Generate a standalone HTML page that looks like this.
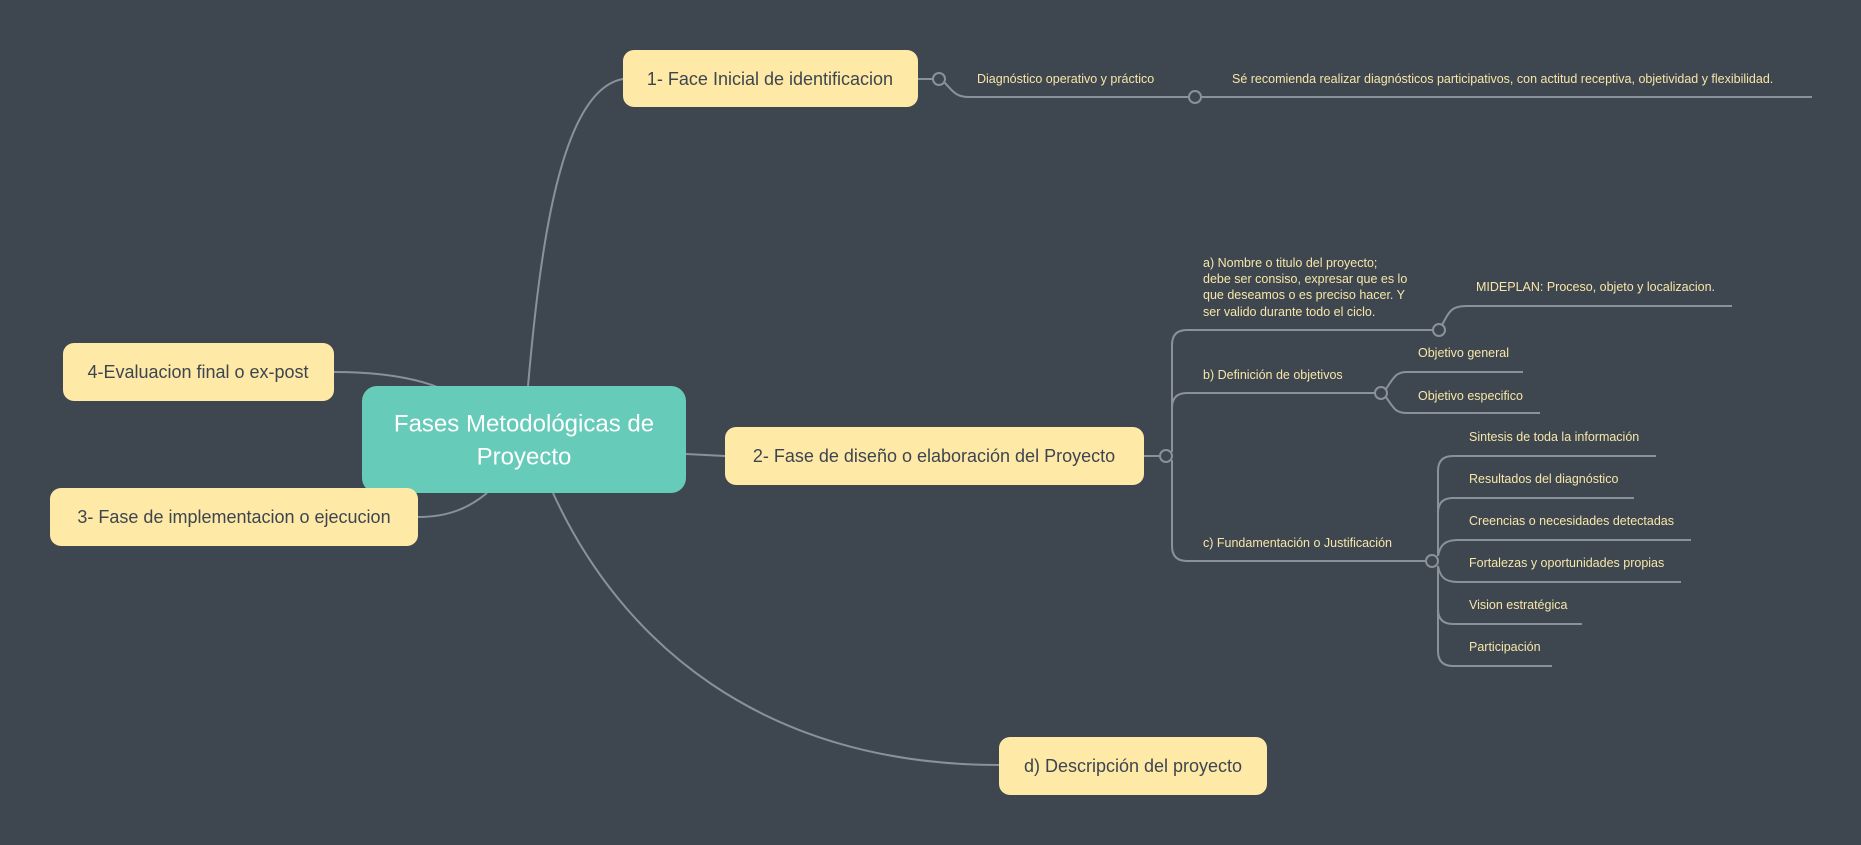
<!DOCTYPE html>
<html><head><meta charset="utf-8"><style>
html,body{margin:0;padding:0;background:#3e4750;}
svg{display:block;}
.t{font-family:"Liberation Sans",sans-serif;}
.s{font-family:"Liberation Sans",sans-serif;font-size:12.5px;fill:#f7e6a8;dominant-baseline:central;}
.n{font-family:"Liberation Sans",sans-serif;font-size:18px;fill:#3d4650;dominant-baseline:central;text-anchor:middle;}
</style></head><body>
<svg width="1861" height="845" viewBox="0 0 1861 845" xmlns="http://www.w3.org/2000/svg">
<rect width="1861" height="845" fill="#3e4750"/>
<g fill="none" stroke="#8a9198" stroke-width="2">
<path d="M528,386 C540,250 560,90 623,79"/>
<path d="M334,372 C380,372 415,378 440,388"/>
<path d="M418,517 C450,517 470,507 487,493"/>
<path d="M553,493 C620,640 760,765 999,765"/>
<path d="M686,454 L725,456"/>
<path d="M918,79 L933,79"/>
<path d="M944,82 C952,90 955,97 969,97 L1189,97"/>
<path d="M1201,97 L1812,97"/>
<path d="M1144,456 L1160,456"/>
<path d="M1172,452 L1172,345 Q1172,330 1187,330 L1433,330"/>
<path d="M1172,452 L1172,408 Q1172,393 1187,393 L1375,393"/>
<path d="M1172,460 L1172,546 Q1172,561 1187,561 L1426,561"/>
<path d="M1442,325 C1450,310 1452,306 1467,306 L1732,306"/>
<path d="M1386,389 C1394,377 1396,372 1407,372 L1523,372"/>
<path d="M1386,397 C1394,409 1396,413 1407,413 L1540,413"/>
<path d="M1438,556 L1438,471 Q1438,456 1453,456 L1656,456"/>
<path d="M1438,556 L1438,513 Q1438,498 1453,498 L1634,498"/>
<path d="M1438,556 C1440,545 1445,540 1458,540 L1691,540"/>
<path d="M1438,566 C1440,577 1445,582 1458,582 L1681,582"/>
<path d="M1438,566 L1438,609 Q1438,624 1453,624 L1582,624"/>
<path d="M1438,566 L1438,651 Q1438,666 1453,666 L1552,666"/>
</g>
<g fill="#3e4750" stroke="#8a9198" stroke-width="2">
<circle cx="939" cy="79" r="6"/>
<circle cx="1195" cy="97" r="6"/>
<circle cx="1166" cy="456" r="6"/>
<circle cx="1439" cy="330" r="6"/>
<circle cx="1381" cy="393" r="6"/>
<circle cx="1432" cy="561" r="6"/>
</g>
<rect x="362" y="386" width="324" height="107" rx="15" fill="#66cbb9"/>
<text class="t" x="524" y="424" font-size="24" fill="#ffffff" text-anchor="middle" dominant-baseline="central">Fases Metodológicas de</text>
<text class="t" x="524" y="457" font-size="24" fill="#ffffff" text-anchor="middle" dominant-baseline="central">Proyecto</text>
<g fill="#ffe9a6">
<rect x="623" y="50" width="295" height="57" rx="11"/>
<rect x="63" y="343" width="271" height="58" rx="11"/>
<rect x="50" y="488" width="368" height="58" rx="11"/>
<rect x="725" y="427" width="419" height="58" rx="11"/>
<rect x="999" y="737" width="268" height="58" rx="11"/>
</g>
<text class="n" x="770" y="79">1- Face Inicial de identificacion</text>
<text class="n" x="198" y="372">4-Evaluacion final o ex-post</text>
<text class="n" x="234" y="517">3- Fase de implementacion o ejecucion</text>
<text class="n" x="934" y="456">2- Fase de diseño o elaboración  del Proyecto</text>
<text class="n" x="1133" y="766">d) Descripción del proyecto</text>
<text class="s" x="977" y="79">Diagnóstico operativo y práctico</text>
<text class="s" x="1232" y="79">Sé recomienda realizar diagnósticos participativos, con actitud receptiva, objetividad y flexibilidad.</text>
<text class="s" x="1203" y="263">a) Nombre o titulo del proyecto;</text>
<text class="s" x="1203" y="279">debe ser consiso, expresar que es lo</text>
<text class="s" x="1203" y="295">que deseamos o es preciso hacer. Y</text>
<text class="s" x="1203" y="312">ser valido durante todo el ciclo.</text>
<text class="s" x="1476" y="287">MIDEPLAN: Proceso, objeto y localizacion.</text>
<text class="s" x="1203" y="375">b) Definición de objetivos</text>
<text class="s" x="1418" y="353">Objetivo general</text>
<text class="s" x="1418" y="396">Objetivo especifico</text>
<text class="s" x="1203" y="543">c) Fundamentación o Justificación</text>
<text class="s" x="1469" y="437">Sintesis de toda la información</text>
<text class="s" x="1469" y="479">Resultados del diagnóstico</text>
<text class="s" x="1469" y="521">Creencias o necesidades detectadas</text>
<text class="s" x="1469" y="563">Fortalezas y oportunidades propias</text>
<text class="s" x="1469" y="605">Vision estratégica</text>
<text class="s" x="1469" y="647">Participación</text>
</svg>
</body></html>
